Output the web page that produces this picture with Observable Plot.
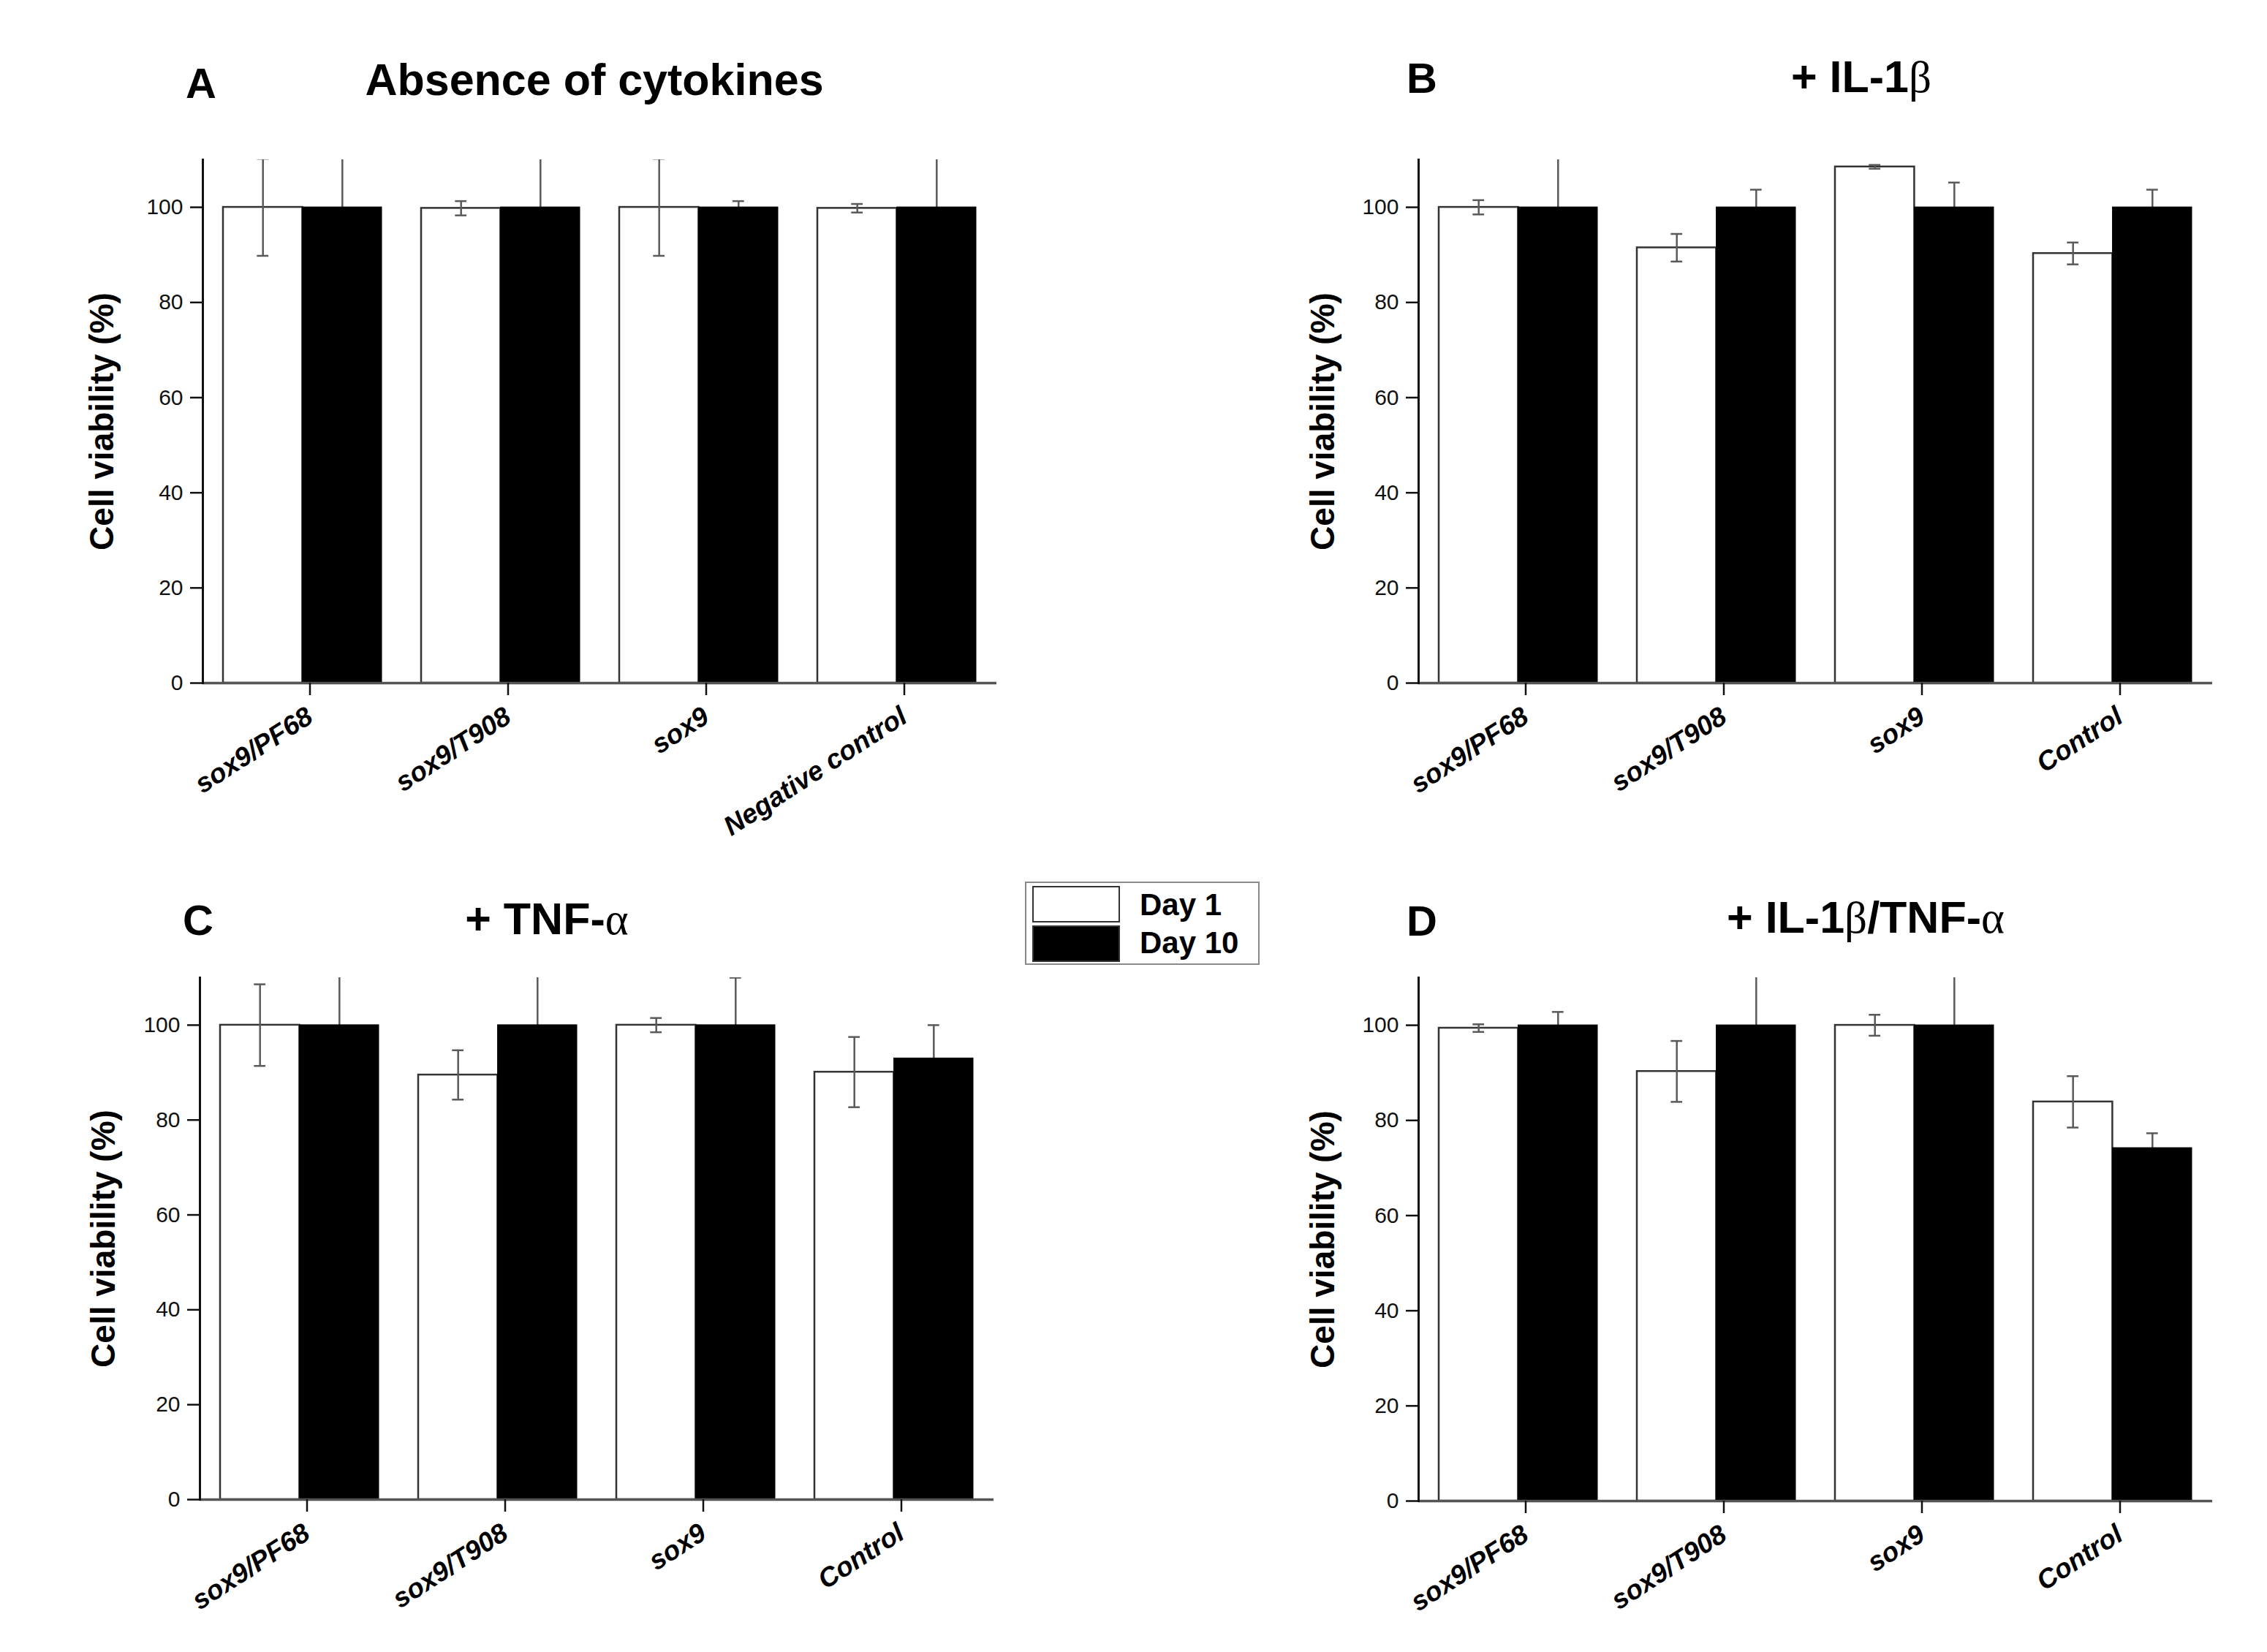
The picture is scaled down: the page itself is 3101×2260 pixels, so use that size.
<!DOCTYPE html>
<html>
<head>
<meta charset="utf-8">
<script src="https://cdn.jsdelivr.net/npm/d3@7"></script>
<script src="https://cdn.jsdelivr.net/npm/@observablehq/plot@0.6"></script>
<style>
  body { margin: 0; background: #fff; }
  #fig { position: relative; width: 3101px; height: 2260px; background: #fff; font-family: "Liberation Sans", Arial, sans-serif; overflow: hidden; }
  .panel { position: absolute; }
  .t { position: absolute; font-weight: bold; white-space: nowrap; line-height: 1; color: #000; }
  .g { font-family: "Liberation Serif", "DejaVu Serif", serif; font-weight: normal; }
  .legend { position: absolute; box-sizing: border-box; border: 2px solid #8a8a8a; background: #fff; }
  .sw { position: absolute; box-sizing: border-box; border: 2px solid #333; }
  .lt { position: absolute; font-weight: bold; font-size: 42px; line-height: 1; white-space: nowrap; }
</style>
</head>
<body>
<div id="fig"></div>
<script>
// ---------- data ----------
const categoriesA = ["sox9/PF68", "sox9/T908", "sox9", "Negative control"];
const categoriesBCD = ["sox9/PF68", "sox9/T908", "sox9", "Control"];
const yTicks = [0, 20, 40, 60, 80, 100];
const seriesNames = ["Day 1", "Day 10"];
const yLabel = "Cell viability (%)";

// A: Absence of cytokines
const aDay1 = [100, 99.8, 100, 99.8];
const aDay1Err = [10.2, 1.5, 10.2, 0.9];
const aDay10 = [100, 100, 100, 100];
const aDay10Err = [12, 12, 1.3, 12];

// B: + IL-1β
const bDay1 = [100, 91.5, 108.5, 90.3];
const bDay1Err = [1.5, 2.9, 0.4, 2.3];
const bDay10 = [100, 100, 100, 100];
const bDay10Err = [12, 3.7, 5.2, 3.7];

// C: + TNF-α
const cDay1 = [100, 89.5, 100, 90.1];
const cDay1Err = [8.6, 5.2, 1.5, 7.4];
const cDay10 = [100, 100, 100, 93.0];
const cDay10Err = [12, 12, 10, 7];

// D: + IL-1β/TNF-α
const dDay1 = [99.4, 90.3, 100, 83.9];
const dDay1Err = [0.8, 6.4, 2.2, 5.4];
const dDay10 = [100, 100, 100, 74.2];
const dDay10Err = [2.8, 12, 12, 3.1];

// ---------- drawing ----------
const fig = document.getElementById("fig");
const RANGE_W = 1086;
const FONT = "Liberation Sans, Arial, sans-serif";

function rows(cats, v, e) {
  return cats.map((c, i) => ({cat: c, v: v[i], e: e[i]}));
}

function errMarks(data, dx, half) {
  const cap = 8;
  const st = {stroke: "#5a5a5a", strokeWidth: 2.5, clip: true};
  return [
    Plot.ruleX(data, {x: "cat", y1: d => d.v - d.e, y2: d => d.v + d.e, dx, ...st}),
    Plot.tickY(data, {x: "cat", y: d => d.v + d.e, dx, insetLeft: half - cap, insetRight: half - cap, ...st}),
    Plot.tickY(data, {x: "cat", y: d => d.v - d.e, dx, insetLeft: half - cap, insetRight: half - cap, ...st})
  ];
}

function makePanel(cfg) {
  const step = RANGE_W / 4;          // paddingInner 0.2, paddingOuter 0.1
  const bw = step * 0.8;
  const half = bw / 2;
  const r1 = rows(cfg.cats, cfg.d1, cfg.e1);
  const r10 = rows(cfg.cats, cfg.d10, cfg.e10);
  const chart = Plot.plot({
    width: cfg.ml + RANGE_W + cfg.mr,
    height: cfg.height,
    marginLeft: cfg.ml,
    marginRight: cfg.mr,
    marginTop: cfg.mt,
    marginBottom: cfg.mb,
    style: {fontFamily: FONT, color: "#111", background: "transparent", overflow: "visible"},
    x: {domain: cfg.cats, paddingInner: 0.2, paddingOuter: 0.1, label: null},
    y: {domain: [0, 110], label: null},
    marks: [
      Plot.barY(r1, {x: "cat", y: "v", insetRight: half, fill: "white", stroke: "#333", strokeWidth: 2.5}),
      ...errMarks(r1, -half / 2, half),
      ...errMarks(r10, half / 2, half),
      Plot.barY(r10, {x: "cat", y: "v", insetLeft: half, fill: "black", stroke: "black", strokeWidth: 1}),
      Plot.ruleY([0], {stroke: "#555", strokeWidth: 3.5}),
      Plot.frame({anchor: "left", stroke: "#111", strokeWidth: 3}),
      Plot.axisY({ticks: yTicks, tickSize: 17, tickPadding: 10, fontSize: 30, label: null, stroke: "#111", strokeWidth: 2.5}),
      Plot.axisX({tickSize: 17, tickPadding: 25, tickRotate: -33, fontSize: 37, fontWeight: "bold", fontStyle: "italic",
                  label: null, dx: 10, stroke: "#111", strokeWidth: 2.5, fill: "#000"}),
      Plot.text([yLabel], {text: d => d, frameAnchor: "left", dx: -cfg.labelOffset, rotate: -90,
                           textAnchor: "middle", lineAnchor: "middle", fontSize: 46, fontWeight: "bold", fill: "#000"})
    ]
  });
  const div = document.createElement("div");
  div.className = "panel";
  div.style.left = cfg.left + "px";
  div.style.top = cfg.top + "px";
  div.appendChild(chart);
  fig.appendChild(div);
}

makePanel({cats: categoriesA, d1: aDay1, e1: aDay1Err, d10: aDay10, e10: aDay10Err,
           left: 0, top: 0, height: 1130, ml: 277, mr: 37, mt: 218, mb: 196, labelOffset: 137});
makePanel({cats: categoriesBCD, d1: bDay1, e1: bDay1Err, d10: bDay10, e10: bDay10Err,
           left: 1663, top: 0, height: 1130, ml: 277, mr: 37, mt: 218, mb: 196, labelOffset: 130});
makePanel({cats: categoriesBCD, d1: cDay1, e1: cDay1Err, d10: cDay10, e10: cDay10Err,
           left: 0, top: 1130, height: 1130, ml: 273, mr: 37, mt: 207, mb: 209, labelOffset: 131});
makePanel({cats: categoriesBCD, d1: dDay1, e1: dDay1Err, d10: dDay10, e10: dDay10Err,
           left: 1663, top: 1130, height: 1130, ml: 277, mr: 37, mt: 207, mb: 207, labelOffset: 130});

// ---------- titles ----------
function title(html, x, baseline, fs, center) {
  const el = document.createElement("div");
  el.className = "t";
  el.style.fontSize = fs + "px";
  el.style.left = x + "px";
  el.style.top = (baseline - 0.8465 * fs) + "px";
  if (center) el.style.transform = "translateX(-50%)";
  el.innerHTML = html;
  fig.appendChild(el);
}
title("A", 254, 134, 58, false);
title("Absence of cytokines", 813, 131, 61, true);
title("B", 1924, 127, 58, false);
title('+ IL-1<span class="g">β</span>', 2546, 127, 61, true);
title("C", 250, 1279, 58, false);
title('+ TNF-<span class="g">α</span>', 748, 1279, 61, true);
title("D", 1924, 1280, 58, false);
title('+ IL-1<span class="g">β</span>/TNF-<span class="g">α</span>', 2552, 1277, 61, true);

// ---------- legend ----------
const legend = document.createElement("div");
legend.className = "legend";
Object.assign(legend.style, {left: "1402px", top: "1206px", width: "321px", height: "114px"});
const swFill = ["#fff", "#000"];
seriesNames.forEach((name, i) => {
  const sw = document.createElement("div");
  sw.className = "sw";
  Object.assign(sw.style, {left: "8px", top: (4 + i * 54) + "px", width: "120px", height: "50px", background: swFill[i]});
  legend.appendChild(sw);
  const lt = document.createElement("div");
  lt.className = "lt";
  Object.assign(lt.style, {left: "155px", top: (47 + i * 52 - 0.8465 * 42 - 2) + "px"});
  lt.textContent = name;
  legend.appendChild(lt);
});
fig.appendChild(legend);
</script>
</body>
</html>
